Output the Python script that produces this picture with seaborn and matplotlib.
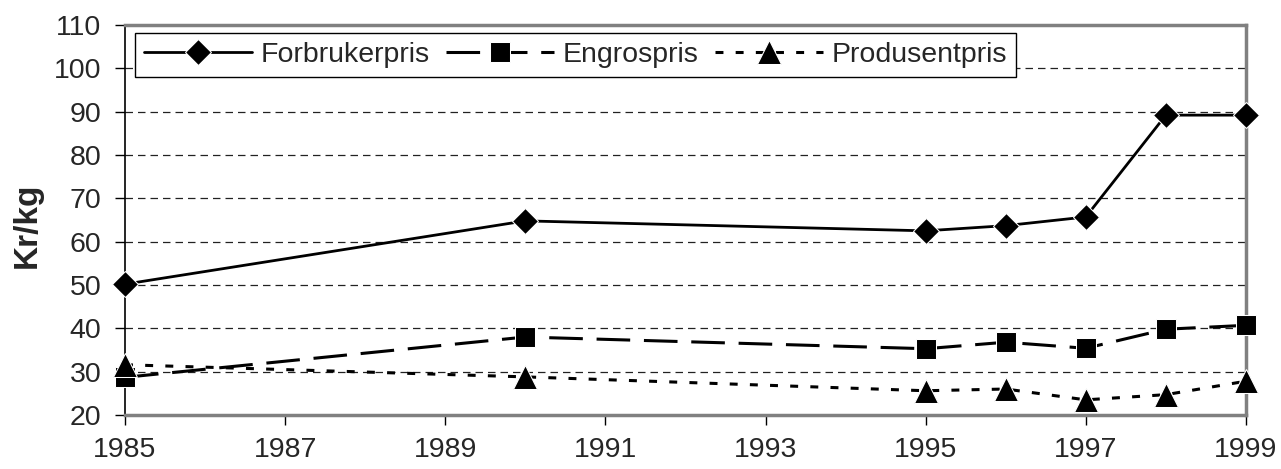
import matplotlib
matplotlib.use("Agg")
import matplotlib.pyplot as plt
import seaborn as sns
import pandas as pd

# prices in Kr/kg
years = [1985, 1990, 1995, 1996, 1997, 1998, 1999]
forbrukerpris = [50.2, 64.8, 62.5, 63.7, 65.7, 89.2, 89.2]
engrospris = [28.7, 38.0, 35.3, 36.8, 35.4, 39.8, 40.7]
produsentpris = [31.6, 28.8, 25.6, 26.0, 23.5, 24.7, 27.8]

sns.set_style("white")
plt.rcParams['font.family'] = ['Liberation Sans', 'DejaVu Sans']

df = pd.DataFrame({"year": years, "Forbrukerpris": forbrukerpris,
                   "Engrospris": engrospris, "Produsentpris": produsentpris})

fig = plt.figure(figsize=(12.81, 4.69), dpi=100)
ax = fig.add_axes([0.0976, 0.1151, 0.875, 0.8316])

sns.lineplot(data=df, x="year", y="Forbrukerpris", ax=ax, color="black",
             marker="D", markersize=13, linewidth=2, label="Forbrukerpris",
             clip_on=False, zorder=5)
sns.lineplot(data=df, x="year", y="Engrospris", ax=ax, color="black",
             marker="s", markersize=14.5, linewidth=2.2,
             linestyle=(0, (11, 4.5)), label="Engrospris",
             clip_on=False, zorder=5)
sns.lineplot(data=df, x="year", y="Produsentpris", ax=ax, color="black",
             marker="^", markersize=17, linewidth=2.2,
             linestyle=(0, (2.6, 4)), label="Produsentpris",
             clip_on=False, zorder=5)

ax.set_xlim(1985, 1999)
ax.set_ylim(20, 110)
ax.set_xticks(range(1985, 2000, 2))
ax.set_yticks(range(20, 111, 10))
ax.set_xlabel("")
ax.set_ylabel("Kr/kg", fontsize=24, fontweight="bold")
ax.yaxis.set_label_coords(-0.073, 0.487)
ax.tick_params(axis="both", labelsize=20.5, direction="out", length=7,
               width=1, color="black", bottom=True, left=True)
ax.tick_params(axis="x", pad=9)
ax.tick_params(axis="y", pad=10)

for y in range(30, 110, 10):
    ax.axhline(y, color="#222222", linewidth=0.9, linestyle=(0, (6, 4)), zorder=0)

for side in ["top", "right", "bottom"]:
    ax.spines[side].set_color("#808080")
    ax.spines[side].set_linewidth(2.5)
ax.spines["left"].set_color("black")
ax.spines["left"].set_linewidth(1.2)

leg = ax.legend(loc="upper left", bbox_to_anchor=(0.009, 0.98), ncol=3,
                fontsize=20.5, handlelength=3.8, columnspacing=0.56,
                handletextpad=0.3, borderpad=0.32, borderaxespad=0.0,
                fancybox=False, framealpha=1, edgecolor="black")
leg.get_frame().set_linewidth(1.0)
leg.set_zorder(10)

fig.savefig("out.png", dpi=100)
